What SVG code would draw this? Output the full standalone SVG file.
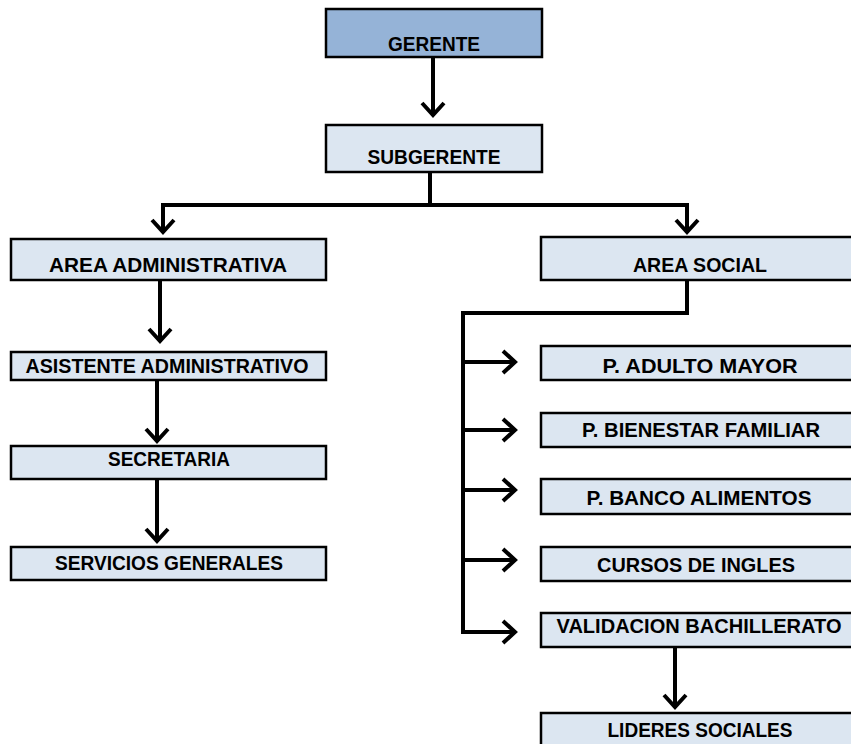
<svg xmlns="http://www.w3.org/2000/svg" width="851" height="744" viewBox="0 0 851 744">
<style>
.box{fill:#dce6f1;stroke:#000;stroke-width:2.5}
.top{fill:#95b3d7}
.t{font-family:"Liberation Sans",Arial,sans-serif;font-weight:bold;font-size:20.5px;fill:#000;text-anchor:middle}
.c{fill:none;stroke:#000;stroke-width:4}
</style>
<defs>
<marker id="ah" markerUnits="userSpaceOnUse" markerWidth="40" markerHeight="40" viewBox="-20 -20 40 40" refX="0" refY="0" orient="auto" overflow="visible">
<path d="M-13,-11 L-1,0 L-13,11" fill="none" stroke="#000" stroke-width="4" stroke-linejoin="miter"/>
</marker>
</defs>
<rect width="851" height="744" fill="#fff"/>
<g id="connectors">
<path class="c" d="M433,57 V116" marker-end="url(#ah)"/>
<path class="c" d="M430,172 V205"/>
<path class="c" d="M432,205 H163 V233" marker-end="url(#ah)"/>
<path class="c" d="M428,205 H687 V233" marker-end="url(#ah)"/>
<path class="c" d="M160,280 V342" marker-end="url(#ah)"/>
<path class="c" d="M157,380 V442" marker-end="url(#ah)"/>
<path class="c" d="M157,479 V542" marker-end="url(#ah)"/>
<path class="c" d="M687,280 V313 H463 V632 H516" marker-end="url(#ah)"/>
<path class="c" d="M461,362 H516" marker-end="url(#ah)"/>
<path class="c" d="M461,430 H516" marker-end="url(#ah)"/>
<path class="c" d="M461,490 H516" marker-end="url(#ah)"/>
<path class="c" d="M461,560 H516" marker-end="url(#ah)"/>
<path class="c" d="M675,647 V708" marker-end="url(#ah)"/>
</g>
<g id="gerente"><rect class="box top" x="326" y="9" width="216" height="48"/><text class="t" x="434" y="51" textLength="92" lengthAdjust="spacingAndGlyphs">GERENTE</text></g>
<g id="subgerente"><rect class="box" x="326" y="125" width="216" height="47"/><text class="t" x="434" y="164" textLength="133" lengthAdjust="spacingAndGlyphs">SUBGERENTE</text></g>
<g id="area-administrativa"><rect class="box" x="11" y="239" width="315" height="41"/><text class="t" x="168" y="272" textLength="238" lengthAdjust="spacingAndGlyphs">AREA ADMINISTRATIVA</text></g>
<g id="asistente"><rect class="box" x="11" y="352" width="315" height="28"/><text class="t" x="167" y="373" textLength="283" lengthAdjust="spacingAndGlyphs">ASISTENTE ADMINISTRATIVO</text></g>
<g id="secretaria"><rect class="box" x="11" y="446" width="315" height="33"/><text class="t" x="169" y="466" textLength="122" lengthAdjust="spacingAndGlyphs">SECRETARIA</text></g>
<g id="servicios"><rect class="box" x="11" y="547" width="315" height="33"/><text class="t" x="169" y="570" textLength="228" lengthAdjust="spacingAndGlyphs">SERVICIOS GENERALES</text></g>
<g id="area-social"><rect class="box" x="541" y="237" width="330" height="43"/><text class="t" x="700" y="272" textLength="134" lengthAdjust="spacingAndGlyphs">AREA SOCIAL</text></g>
<g id="adulto-mayor"><rect class="box" x="541" y="346" width="330" height="34"/><text class="t" x="700" y="373" textLength="195" lengthAdjust="spacingAndGlyphs">P. ADULTO MAYOR</text></g>
<g id="bienestar"><rect class="box" x="541" y="413" width="330" height="34"/><text class="t" x="701" y="437" textLength="238" lengthAdjust="spacingAndGlyphs">P. BIENESTAR FAMILIAR</text></g>
<g id="banco"><rect class="box" x="541" y="479" width="330" height="35"/><text class="t" x="699" y="505" textLength="225" lengthAdjust="spacingAndGlyphs">P. BANCO ALIMENTOS</text></g>
<g id="cursos"><rect class="box" x="541" y="547" width="330" height="34"/><text class="t" x="696" y="572" textLength="198" lengthAdjust="spacingAndGlyphs">CURSOS DE INGLES</text></g>
<g id="validacion"><rect class="box" x="541" y="613" width="330" height="34"/><text class="t" x="699" y="633" textLength="285" lengthAdjust="spacingAndGlyphs">VALIDACION BACHILLERATO</text></g>
<g id="lideres"><rect class="box" x="541" y="713" width="330" height="45"/><text class="t" x="700" y="737" textLength="185" lengthAdjust="spacingAndGlyphs">LIDERES  SOCIALES</text></g>
</svg>
